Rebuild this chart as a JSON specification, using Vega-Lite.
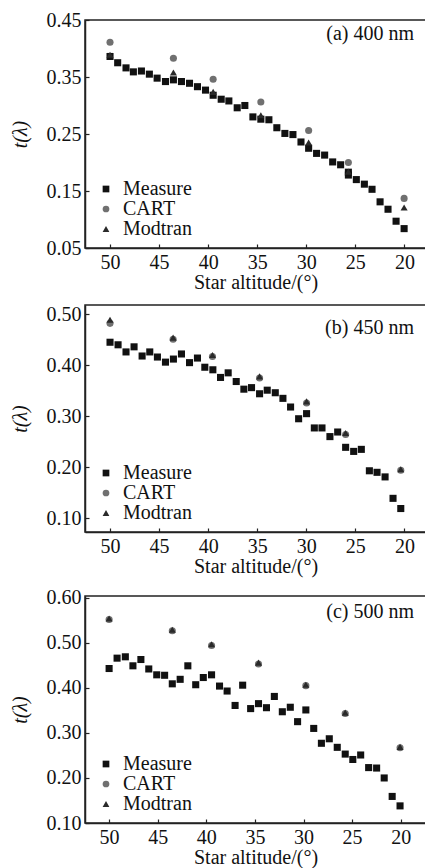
{
  "$schema": "https://vega.github.io/schema/vega-lite/v6.json",
  "padding": {"left": 9, "top": 9, "right": 0, "bottom": 0},
  "background": "white",
  "spacing": 10,
  "config": {
    "font": "Liberation Serif",
    "view": {"stroke": "#222", "strokeWidth": 1.5},
    "axis": {
      "labelFont": "Liberation Serif", "labelFontSize": 20, "labelColor": "#111",
      "titleFont": "Liberation Serif", "titleFontSize": 20, "titleFontWeight": "normal", "titleColor": "#111",
      "grid": false, "domainColor": "#222", "domainWidth": 1.5,
      "tickColor": "#222", "tickWidth": 1.2, "tickSize": -4
    },
    "axisX": {"labelPadding": 8, "titlePadding": 0},
    "axisY": {"labelPadding": 8, "titlePadding": 16},
    "legend": {
      "orient": "bottom-left", "offset": 9, "padding": 0, "title": null,
      "labelFont": "Liberation Serif", "labelFontSize": 20, "labelColor": "#111",
      "symbolOffset": 2, "labelOffset": 7, "rowPadding": 0, "symbolSize": 45,
      "symbolStrokeWidth": 0
    },
    "title": {"font": "Liberation Serif", "fontSize": 20, "fontWeight": "normal", "color": "#111"}
  },
  "data": {"values": [
    {"p":"a","s":"Measure","x":50,"y":0.386},{"p":"a","s":"Measure","x":49.22,"y":0.375},{"p":"a","s":"Measure","x":48.37,"y":0.366},{"p":"a","s":"Measure","x":47.62,"y":0.359},{"p":"a","s":"Measure","x":46.8,"y":0.3605},{"p":"a","s":"Measure","x":45.99,"y":0.355},{"p":"a","s":"Measure","x":45.2,"y":0.348},{"p":"a","s":"Measure","x":44.35,"y":0.342},{"p":"a","s":"Measure","x":43.54,"y":0.345},{"p":"a","s":"Measure","x":42.72,"y":0.342},{"p":"a","s":"Measure","x":41.9,"y":0.339},{"p":"a","s":"Measure","x":41.09,"y":0.333},{"p":"a","s":"Measure","x":40.27,"y":0.327},{"p":"a","s":"Measure","x":39.49,"y":0.318},{"p":"a","s":"Measure","x":38.67,"y":0.311},{"p":"a","s":"Measure","x":37.89,"y":0.308},{"p":"a","s":"Measure","x":37.04,"y":0.296},{"p":"a","s":"Measure","x":36.26,"y":0.3},{"p":"a","s":"Measure","x":35.44,"y":0.28},{"p":"a","s":"Measure","x":34.63,"y":0.276},{"p":"a","s":"Measure","x":33.81,"y":0.275},{"p":"a","s":"Measure","x":33.0,"y":0.261},{"p":"a","s":"Measure","x":32.18,"y":0.251},{"p":"a","s":"Measure","x":31.36,"y":0.249},{"p":"a","s":"Measure","x":30.54,"y":0.236},{"p":"a","s":"Measure","x":29.76,"y":0.225},{"p":"a","s":"Measure","x":28.95,"y":0.216},{"p":"a","s":"Measure","x":28.13,"y":0.213},{"p":"a","s":"Measure","x":27.31,"y":0.201},{"p":"a","s":"Measure","x":26.5,"y":0.196},{"p":"a","s":"Measure","x":25.71,"y":0.183},{"p":"a","s":"Measure","x":25.71,"y":0.178},{"p":"a","s":"Measure","x":24.9,"y":0.17},{"p":"a","s":"Measure","x":24.08,"y":0.162},{"p":"a","s":"Measure","x":23.3,"y":0.153},{"p":"a","s":"Measure","x":22.48,"y":0.131},{"p":"a","s":"Measure","x":21.67,"y":0.118},{"p":"a","s":"Measure","x":20.85,"y":0.097},{"p":"a","s":"Measure","x":20.03,"y":0.084},
    {"p":"a","s":"CART","x":50,"y":0.411},{"p":"a","s":"CART","x":43.54,"y":0.383},{"p":"a","s":"CART","x":39.49,"y":0.346},{"p":"a","s":"CART","x":34.63,"y":0.306},{"p":"a","s":"CART","x":29.76,"y":0.256},{"p":"a","s":"CART","x":25.71,"y":0.2},{"p":"a","s":"CART","x":20.03,"y":0.137},
    {"p":"a","s":"Modtran","x":50,"y":0.389},{"p":"a","s":"Modtran","x":43.54,"y":0.358},{"p":"a","s":"Modtran","x":39.49,"y":0.324},{"p":"a","s":"Modtran","x":34.63,"y":0.283},{"p":"a","s":"Modtran","x":29.76,"y":0.235},{"p":"a","s":"Modtran","x":25.71,"y":0.184},{"p":"a","s":"Modtran","x":20.03,"y":0.121},
    {"p":"b","s":"Measure","x":50,"y":0.445},{"p":"b","s":"Measure","x":49.18,"y":0.44},{"p":"b","s":"Measure","x":48.37,"y":0.426},{"p":"b","s":"Measure","x":47.55,"y":0.436},{"p":"b","s":"Measure","x":46.73,"y":0.418},{"p":"b","s":"Measure","x":45.95,"y":0.426},{"p":"b","s":"Measure","x":45.17,"y":0.416},{"p":"b","s":"Measure","x":44.35,"y":0.406},{"p":"b","s":"Measure","x":43.54,"y":0.412},{"p":"b","s":"Measure","x":42.72,"y":0.422},{"p":"b","s":"Measure","x":41.9,"y":0.405},{"p":"b","s":"Measure","x":41.09,"y":0.414},{"p":"b","s":"Measure","x":40.34,"y":0.396},{"p":"b","s":"Measure","x":39.52,"y":0.391},{"p":"b","s":"Measure","x":38.74,"y":0.376},{"p":"b","s":"Measure","x":37.96,"y":0.385},{"p":"b","s":"Measure","x":37.14,"y":0.368},{"p":"b","s":"Measure","x":36.36,"y":0.353},{"p":"b","s":"Measure","x":35.58,"y":0.356},{"p":"b","s":"Measure","x":34.76,"y":0.344},{"p":"b","s":"Measure","x":33.98,"y":0.351},{"p":"b","s":"Measure","x":33.16,"y":0.346},{"p":"b","s":"Measure","x":32.38,"y":0.335},{"p":"b","s":"Measure","x":31.6,"y":0.318},{"p":"b","s":"Measure","x":30.78,"y":0.295},{"p":"b","s":"Measure","x":29.97,"y":0.305},{"p":"b","s":"Measure","x":29.18,"y":0.277},{"p":"b","s":"Measure","x":28.4,"y":0.277},{"p":"b","s":"Measure","x":27.59,"y":0.26},{"p":"b","s":"Measure","x":26.8,"y":0.269},{"p":"b","s":"Measure","x":25.99,"y":0.239},{"p":"b","s":"Measure","x":25.17,"y":0.231},{"p":"b","s":"Measure","x":24.39,"y":0.235},{"p":"b","s":"Measure","x":23.57,"y":0.193},{"p":"b","s":"Measure","x":22.79,"y":0.19},{"p":"b","s":"Measure","x":21.97,"y":0.181},{"p":"b","s":"Measure","x":21.16,"y":0.139},{"p":"b","s":"Measure","x":20.37,"y":0.119},
    {"p":"b","s":"CART","x":50,"y":0.482},{"p":"b","s":"CART","x":43.57,"y":0.451},{"p":"b","s":"CART","x":39.56,"y":0.417},{"p":"b","s":"CART","x":34.76,"y":0.375},{"p":"b","s":"CART","x":29.97,"y":0.326},{"p":"b","s":"CART","x":25.99,"y":0.264},{"p":"b","s":"CART","x":20.37,"y":0.194},
    {"p":"b","s":"Modtran","x":50,"y":0.489},{"p":"b","s":"Modtran","x":43.57,"y":0.454},{"p":"b","s":"Modtran","x":39.56,"y":0.42},{"p":"b","s":"Modtran","x":34.76,"y":0.378},{"p":"b","s":"Modtran","x":29.97,"y":0.329},{"p":"b","s":"Modtran","x":25.99,"y":0.267},{"p":"b","s":"Modtran","x":20.37,"y":0.196},
    {"p":"c","s":"Measure","x":50,"y":0.443},{"p":"c","s":"Measure","x":49.18,"y":0.466},{"p":"c","s":"Measure","x":48.33,"y":0.469},{"p":"c","s":"Measure","x":47.55,"y":0.449},{"p":"c","s":"Measure","x":46.73,"y":0.463},{"p":"c","s":"Measure","x":45.92,"y":0.442},{"p":"c","s":"Measure","x":45.1,"y":0.429},{"p":"c","s":"Measure","x":44.29,"y":0.428},{"p":"c","s":"Measure","x":43.5,"y":0.409},{"p":"c","s":"Measure","x":42.69,"y":0.419},{"p":"c","s":"Measure","x":41.9,"y":0.449},{"p":"c","s":"Measure","x":41.09,"y":0.407},{"p":"c","s":"Measure","x":40.31,"y":0.423},{"p":"c","s":"Measure","x":39.46,"y":0.429},{"p":"c","s":"Measure","x":38.64,"y":0.404},{"p":"c","s":"Measure","x":37.86,"y":0.393},{"p":"c","s":"Measure","x":37.04,"y":0.361},{"p":"c","s":"Measure","x":36.26,"y":0.406},{"p":"c","s":"Measure","x":35.44,"y":0.354},{"p":"c","s":"Measure","x":34.63,"y":0.365},{"p":"c","s":"Measure","x":33.81,"y":0.356},{"p":"c","s":"Measure","x":33.0,"y":0.381},{"p":"c","s":"Measure","x":32.18,"y":0.347},{"p":"c","s":"Measure","x":31.36,"y":0.357},{"p":"c","s":"Measure","x":30.61,"y":0.325},{"p":"c","s":"Measure","x":29.76,"y":0.351},{"p":"c","s":"Measure","x":28.95,"y":0.31},{"p":"c","s":"Measure","x":28.16,"y":0.277},{"p":"c","s":"Measure","x":27.35,"y":0.287},{"p":"c","s":"Measure","x":26.53,"y":0.268},{"p":"c","s":"Measure","x":25.71,"y":0.253},{"p":"c","s":"Measure","x":24.93,"y":0.241},{"p":"c","s":"Measure","x":24.12,"y":0.251},{"p":"c","s":"Measure","x":23.3,"y":0.223},{"p":"c","s":"Measure","x":22.48,"y":0.222},{"p":"c","s":"Measure","x":21.7,"y":0.2},{"p":"c","s":"Measure","x":20.88,"y":0.159},{"p":"c","s":"Measure","x":20.07,"y":0.138},
    {"p":"c","s":"CART","x":50,"y":0.552},{"p":"c","s":"CART","x":43.5,"y":0.527},{"p":"c","s":"CART","x":39.46,"y":0.494},{"p":"c","s":"CART","x":34.63,"y":0.453},{"p":"c","s":"CART","x":29.76,"y":0.405},{"p":"c","s":"CART","x":25.71,"y":0.343},{"p":"c","s":"CART","x":20.07,"y":0.267},
    {"p":"c","s":"Modtran","x":50,"y":0.554},{"p":"c","s":"Modtran","x":43.5,"y":0.529},{"p":"c","s":"Modtran","x":39.46,"y":0.497},{"p":"c","s":"Modtran","x":34.63,"y":0.456},{"p":"c","s":"Modtran","x":29.76,"y":0.407},{"p":"c","s":"Modtran","x":25.71,"y":0.345},{"p":"c","s":"Modtran","x":20.07,"y":0.269}
  ]},
  "resolve": {"legend": {"color": "independent", "shape": "independent"}, "scale": {"y": "independent"}},
  "vconcat": [
    {
      "width": 341, "height": 228,
      "title": {"text": "(a) 400 nm", "anchor": "end", "frame": "group", "orient": "top", "offset": -34, "dx": -12},
      "transform": [{"filter": "datum.p === 'a'"}],
      "mark": {"type": "point", "filled": true, "size": 50, "opacity": 1},
      "encoding": {
        "x": {"field": "x", "type": "quantitative", "title": "Star altitude/(°)", "scale": {"domain": [17.8, 52.55], "reverse": true, "nice": false, "zero": false}, "axis": {"values": [50,45,40,35,30,25,20]}},
        "y": {"field": "y", "type": "quantitative", "title": "t(λ)", "scale": {"domain": [0.05, 0.45], "nice": false, "zero": false}, "axis": {"values": [0.05,0.15,0.25,0.35,0.45], "format": ".2f", "titleFontStyle": "italic"}},
        "color": {"field": "s", "type": "nominal", "scale": {"domain": ["Measure","CART","Modtran"], "range": ["#111111","#707070","#2a2a2a"]}, "legend": {}},
        "shape": {"field": "s", "type": "nominal", "scale": {"domain": ["Measure","CART","Modtran"], "range": ["square","circle","triangle-up"]}, "legend": {}}
      }
    },
    {
      "width": 341, "height": 227,
      "title": {"text": "(b) 450 nm", "anchor": "end", "frame": "group", "orient": "top", "offset": -34, "dx": -12},
      "transform": [{"filter": "datum.p === 'b'"}],
      "mark": {"type": "point", "filled": true, "size": 50, "opacity": 1},
      "encoding": {
        "x": {"field": "x", "type": "quantitative", "title": "Star altitude/(°)", "scale": {"domain": [17.8, 52.55], "reverse": true, "nice": false, "zero": false}, "axis": {"values": [50,45,40,35,30,25,20]}},
        "y": {"field": "y", "type": "quantitative", "title": "t(λ)", "scale": {"domain": [0.073, 0.518], "nice": false, "zero": false}, "axis": {"values": [0.1,0.2,0.3,0.4,0.5], "format": ".2f", "titleFontStyle": "italic"}},
        "color": {"field": "s", "type": "nominal", "scale": {"domain": ["Measure","CART","Modtran"], "range": ["#111111","#707070","#2a2a2a"]}, "legend": {}},
        "shape": {"field": "s", "type": "nominal", "scale": {"domain": ["Measure","CART","Modtran"], "range": ["square","circle","triangle-up"]}, "legend": {}}
      }
    },
    {
      "width": 341, "height": 227,
      "title": {"text": "(c) 500 nm", "anchor": "end", "frame": "group", "orient": "top", "offset": -34, "dx": -12},
      "transform": [{"filter": "datum.p === 'c'"}],
      "mark": {"type": "point", "filled": true, "size": 50, "opacity": 1},
      "encoding": {
        "x": {"field": "x", "type": "quantitative", "title": "Star altitude/(°)", "scale": {"domain": [17.4, 52.48], "reverse": true, "nice": false, "zero": false}, "axis": {"values": [50,45,40,35,30,25,20]}},
        "y": {"field": "y", "type": "quantitative", "title": "t(λ)", "scale": {"domain": [0.1, 0.604], "nice": false, "zero": false}, "axis": {"values": [0.1,0.2,0.3,0.4,0.5,0.6], "format": ".2f", "titleFontStyle": "italic"}},
        "color": {"field": "s", "type": "nominal", "scale": {"domain": ["Measure","CART","Modtran"], "range": ["#111111","#707070","#2a2a2a"]}, "legend": {}},
        "shape": {"field": "s", "type": "nominal", "scale": {"domain": ["Measure","CART","Modtran"], "range": ["square","circle","triangle-up"]}, "legend": {}}
      }
    }
  ]
}
